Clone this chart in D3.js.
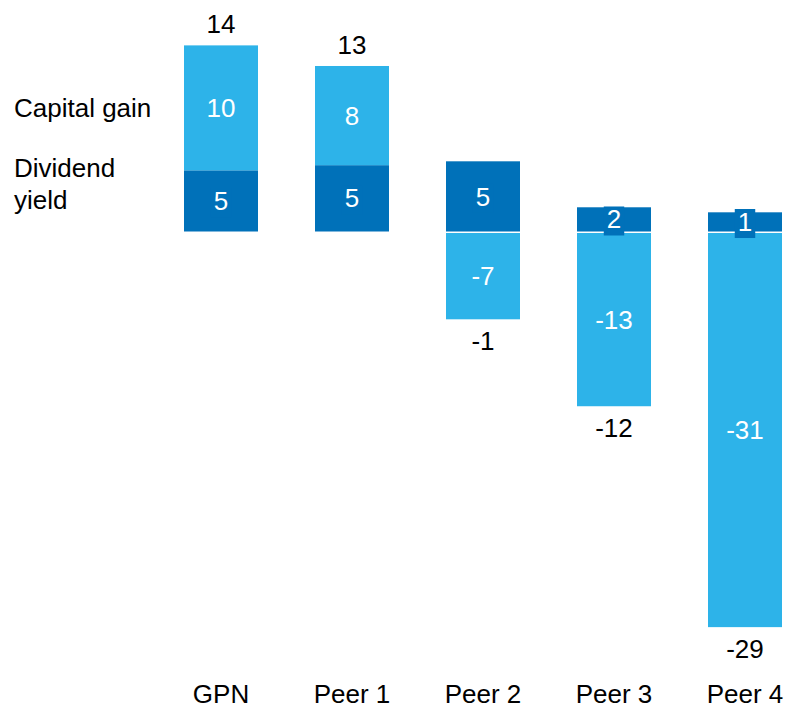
<!DOCTYPE html>
<html>
<head>
<meta charset="utf-8">
<script src="https://cdn.jsdelivr.net/npm/d3@7"></script>
<style>
  html, body { margin: 0; padding: 0; background: #fff; }
  svg { display: block; font-family: "Liberation Sans", Arial, sans-serif; }
</style>
</head>
<body>
<svg id="chart" width="787" height="709"></svg>
<script>
// Data
const categories = ["GPN", "Peer 1", "Peer 2", "Peer 3", "Peer 4"];
const dividendYield = [4.75, 5.15, 5.45, 1.88, 1.49];
const capitalGain = [9.7, 7.7, -6.7, -13.45, -30.6];
const legendLabels = ["Capital gain", ["Dividend", "yield"]];

const colors = { capital: "#2db3e9", dividend: "#0071b9" };

const W = 787, H = 709;
const svg = d3.select("#chart");

const x = d3.scalePoint().domain(categories).range([221, 745]);
const barW = 74;
const y = d3.scaleLinear().domain([-30.6, 14.45]).range([626.7 - 1.5, 231.5 - 14.45 * 12.88]);
// note: 12.88 px per unit
y.domain([0, 1]).range([231.5, 231.5 - 12.88]);
const gap = 1.5;

const data = categories.map((c, i) => ({
  cat: c, div: dividendYield[i], cap: capitalGain[i], total: dividendYield[i] + capitalGain[i]
}));

const fmt = v => String(Math.round(v));
const fs = 26;

// Bars
data.forEach(d => {
  const g = svg.append("g");
  const cx = x(d.cat);
  // dividend segment: 0 -> div
  const dTop = y(d.div), dBot = y(0);
  g.append("rect").attr("x", cx - barW / 2).attr("width", barW)
    .attr("y", dTop).attr("height", dBot - dTop).attr("fill", colors.dividend);
  // capital gain segment
  let cTop, cBot;
  if (d.cap >= 0) {
    cTop = y(d.div + d.cap); cBot = y(d.div);
  } else {
    cTop = y(0) + gap; cBot = y(d.cap) + gap;
  }
  g.append("rect").attr("x", cx - barW / 2).attr("width", barW)
    .attr("y", cTop).attr("height", cBot - cTop).attr("fill", colors.capital);

  // capital label
  g.append("text").attr("x", cx).attr("y", (cTop + cBot) / 2)
    .attr("dy", "0.35em").attr("text-anchor", "middle")
    .attr("font-size", fs).attr("fill", "#fff").text(fmt(d.cap));

  // dividend label with background box
  const dl = g.append("g");
  const t = dl.append("text").attr("x", cx).attr("y", (dTop + dBot) / 2)
    .attr("dy", "0.35em").attr("text-anchor", "middle")
    .attr("font-size", fs).attr("fill", "#fff").text(fmt(d.div));
  const bb = t.node().getBBox();
  dl.insert("rect", "text").attr("x", bb.x - 3).attr("y", bb.y + 2)
    .attr("width", bb.width + 6).attr("height", bb.height - 1).attr("fill", colors.dividend);

  // total label
  if (d.total >= 0) {
    const top = Math.min(dTop, cTop);
    g.append("text").attr("x", cx).attr("y", top - 12)
      .attr("text-anchor", "middle").attr("font-size", fs).attr("fill", "#000")
      .text(fmt(d.total));
  } else {
    const bot = Math.max(dBot, cBot);
    g.append("text").attr("x", cx).attr("y", bot + 31)
      .attr("text-anchor", "middle").attr("font-size", fs).attr("fill", "#000")
      .text(fmt(d.total));
  }
});

// Category axis labels
svg.append("g").selectAll("text").data(categories).join("text")
  .attr("x", d => x(d)).attr("y", 703).attr("text-anchor", "middle")
  .attr("font-size", fs).attr("fill", "#000").text(d => d);

// Legend labels (left)
svg.append("text").attr("x", 14).attr("y", 117).attr("font-size", fs)
  .attr("fill", "#000").text(legendLabels[0]);
const lt = svg.append("text").attr("x", 14).attr("y", 177).attr("font-size", fs).attr("fill", "#000");
legendLabels[1].forEach((s, i) => {
  lt.append("tspan").attr("x", 14).attr("dy", i === 0 ? 0 : 32).text(s);
});
</script>
</body>
</html>
